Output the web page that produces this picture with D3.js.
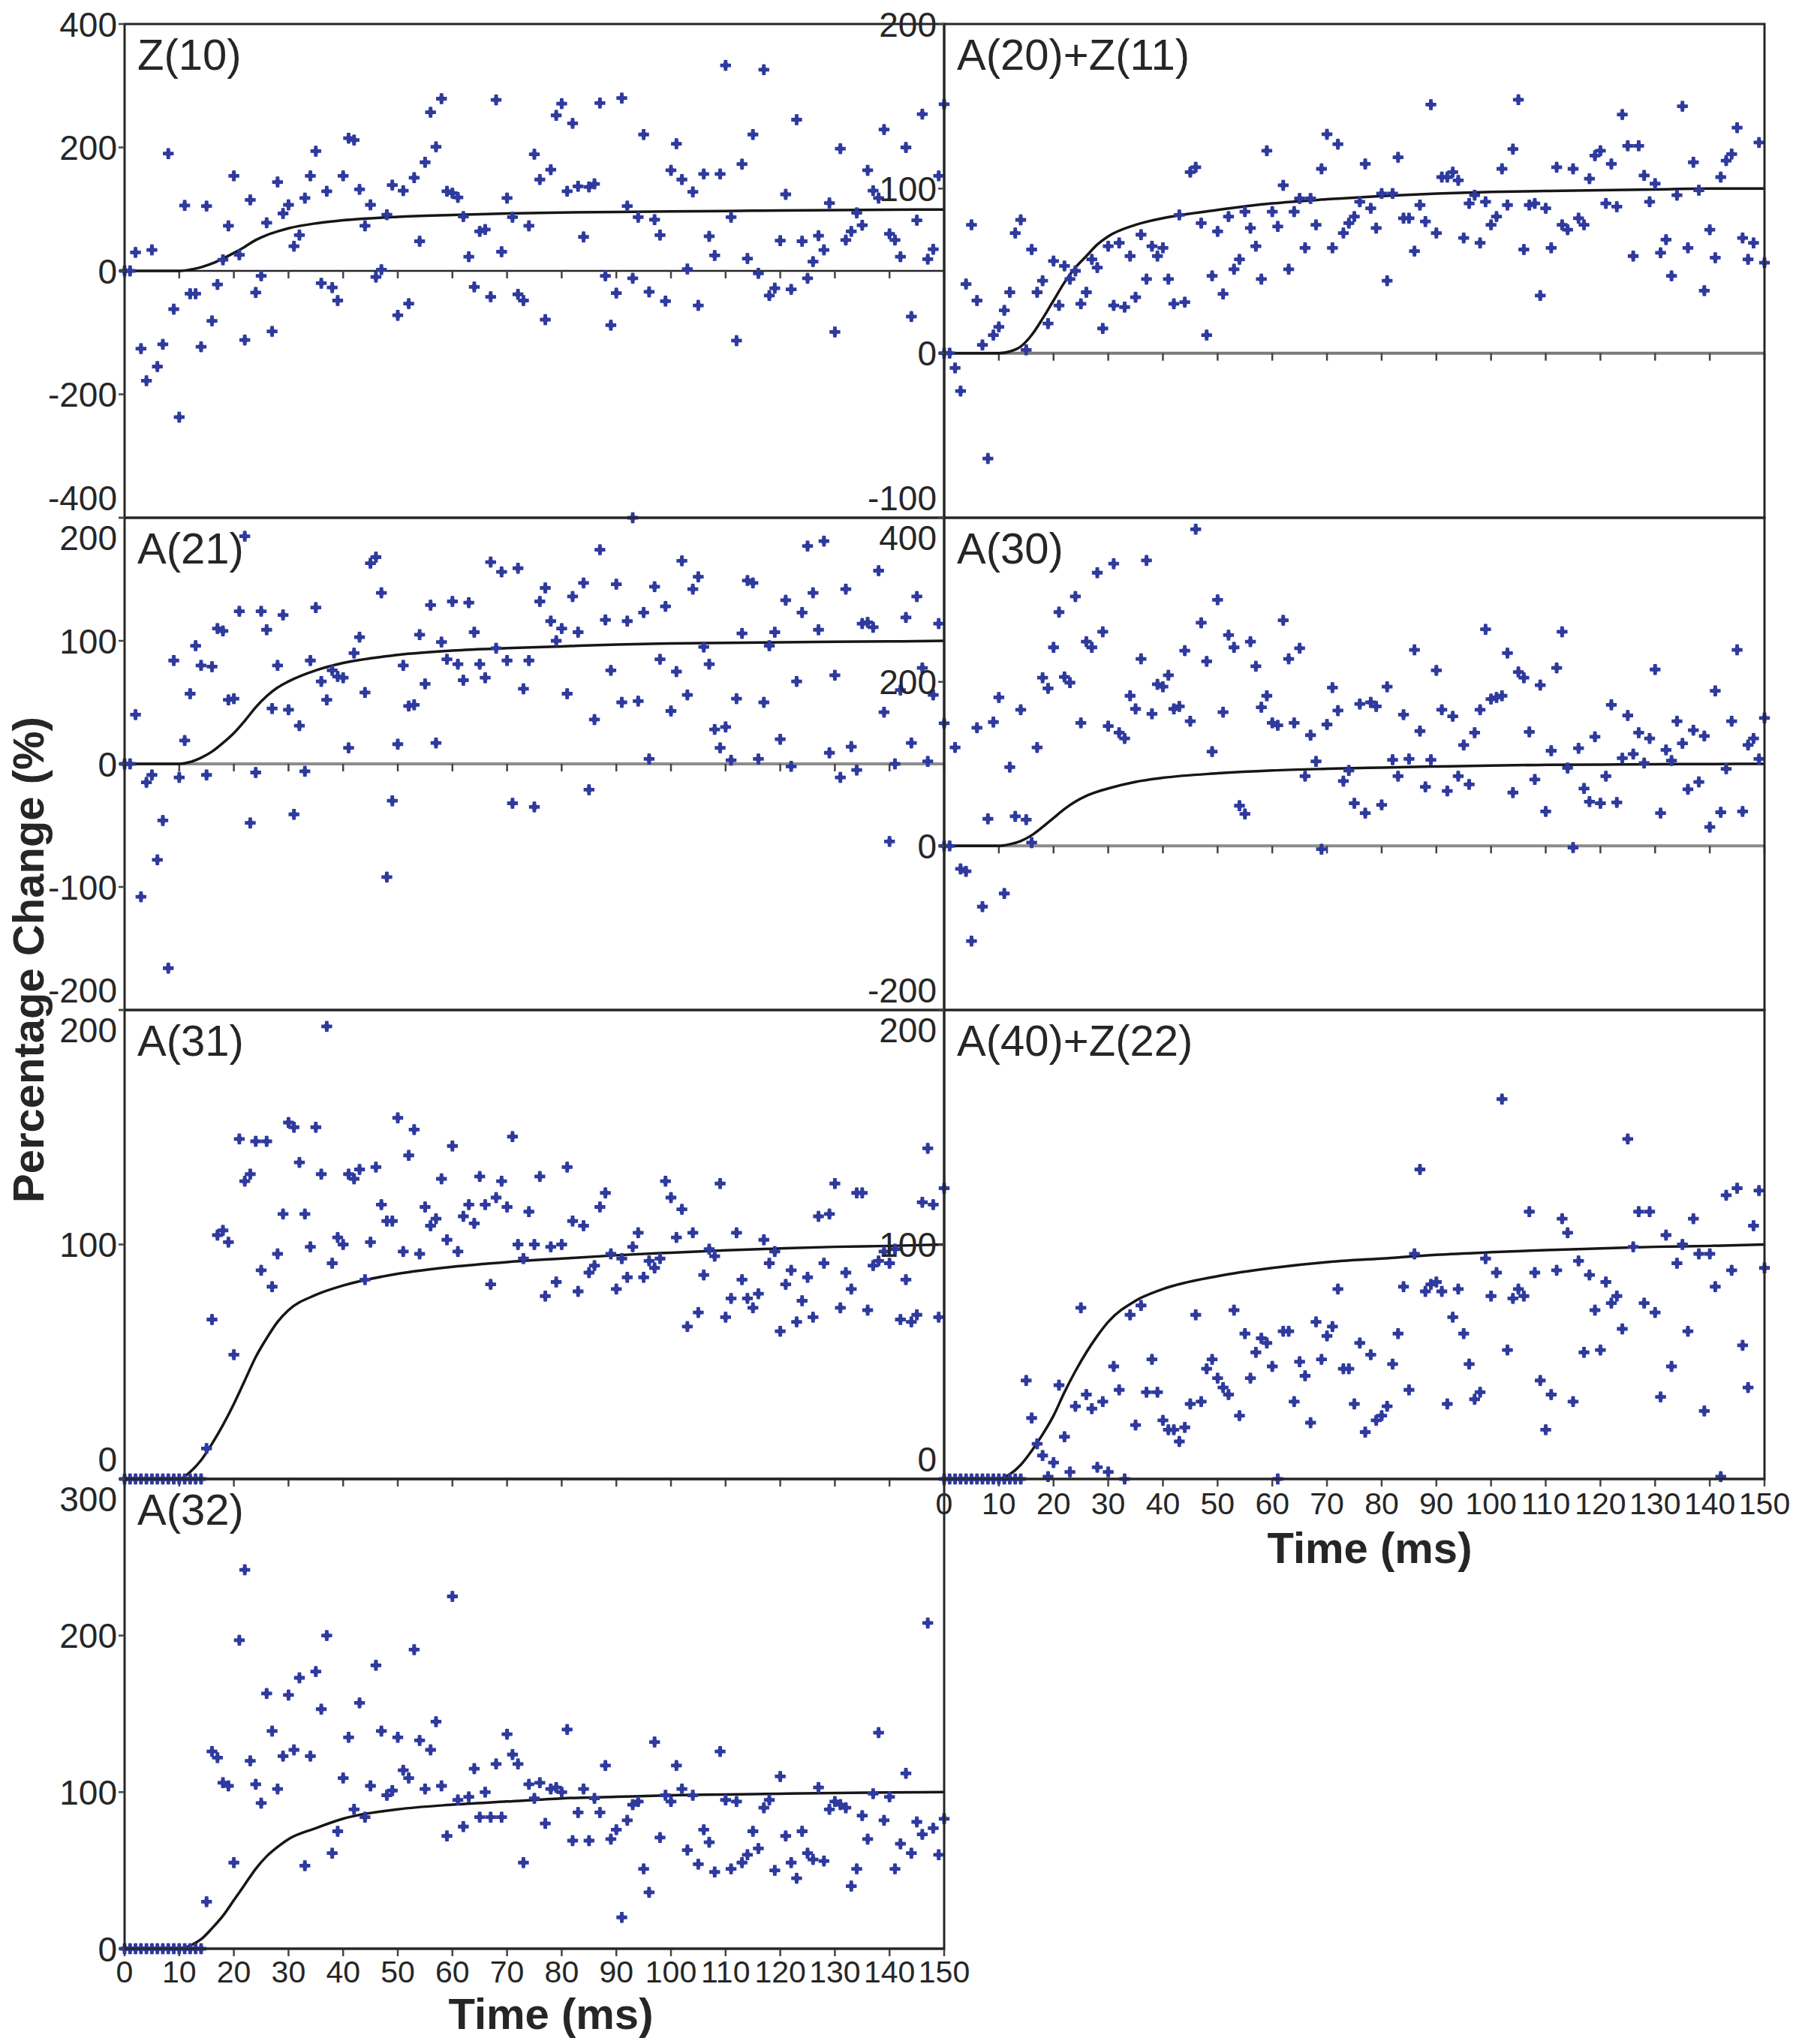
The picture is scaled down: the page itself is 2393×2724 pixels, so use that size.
<!DOCTYPE html>
<html>
<head>
<meta charset="utf-8">
<style>
  body { margin: 0; background: #fff; }
  svg { display: block; }
  text { font-family: "Liberation Sans", Arial, sans-serif; fill: #262626; }
</style>
</head>
<body>
<script src="https://d3js.org/d3.v7.min.js"></script>
<script>
// time grid: one sample per ms, 0..150
var times = d3.range(0, 151);

// measured values (% change) per construct, index = ms
var z10 = [0, 0,30,-126,-178,34,-155,-119,190,-62,-237, 106,-37,-37,-123,105,-81,-22,18,73,154,
  26,-112,115,-35,-8,78,-98,144,93,107, 40,58,118,154,194,-20,129,-27,-48,154,
  215,212,132,73,107,-10,2,91,139,-72, 130,-53,151,48,176,257,201,279,129,126,
  119,88,23,-26,64,67,-42,277,31,118, 87,-38,-48,73,189,148,-79,164,252,271,
  129,239,137,55,136,141,272,-8,-88,-36, 280,105,-12,87,221,-34,83,58,-49,163,
  206,148,3,128,-56,157,56,25,157,333, 87,-113,173,20,221,-4,326,-40,-28,49,
  124,-30,245,48,-12,15,57,34,110,-99, 198,50,64,94,74,163,130,118,229,60,
  50,23,200,-74,82,254,19,35,154,270];

var a20z11 = [0, 0,-9,-23,42,78,32,5,-64,11,16, 26,37,73,81,2,63,37,44,18,56,
  29,53,45,50,30,37,57,52,15,65, 29,67,28,59,34,72,45,65,59,64,
  45,30,84,31,110,113,79,11,47,74, 36,83,51,57,86,76,65,45,123,86,
  77,102,51,86,94,64,94,78,112,133, 64,127,73,79,83,92,115,88,76,97,
  44,97,119,82,82,62,90,80,151,73, 107,107,110,105,70,91,96,67,92,78,
  83,112,90,124,154,63,90,91,35,88, 64,113,78,75,112,82,78,106,120,123,
  91,115,89,145,126,59,126,108,92,103, 61,69,47,96,150,64,116,99,38,75,
  58,107,117,121,137,70,57,67,128,55];

var a21 = [0, 0,40,-108,-15,-9,-78,-46,-166,84,-11, 19,57,96,80,-9,79,110,108,52,53,
  124,185,-48,-7,124,109,45,80,121,44, -41,31,-6,84,127,67,52,76,71,70,
  13,90,103,58,163,168,139,-92,-30,16, 80,47,48,105,65,129,17,99,85,132,
  81,68,131,107,81,70,164,94,156,84, -32,159,61,84,-35,132,143,116,100,110,
  57,136,107,147,-21,36,174,117,76,146, 50,116,200,51,123,4,144,85,128,43,
  75,165,56,142,152,95,81,28,13,30, 3,53,106,149,147,4,50,96,107,20,
  133,-2,67,123,177,139,109,181,9,72, -11,142,14,-5,114,115,111,157,42,-63,
  0,60,119,17,136,78,2,56,114,33];

var a30 = [0, 0,120,-28,-31,-116,144,-74,33,151,181, -58,96,36,166,32,4,120,205,192,242,
  285,206,199,304,150,249,242,333,261,146, 344,138,131,183,167,228,348,161,197,194,
  208,167,170,238,152,386,272,225,115,300, 163,257,242,49,39,249,219,169,183,150,
  147,275,228,150,241,85,135,103,-4,148, 193,165,79,92,52,173,40,175,170,50,
  194,105,85,160,106,239,140,72,105,214, 166,67,158,85,123,75,138,166,264,179,
  181,183,235,65,212,205,139,81,196,42, 116,217,261,95,-2,119,70,54,133,52,
  85,172,53,107,159,112,138,101,131,215, 40,117,104,152,125,69,141,78,134,23,
  189,41,94,152,239,42,123,131,106,156];

var a31 = [0, 0,0,0,0,0,0,0,0,0,0, 0,0,0,0,13,68,104,106,101,53,
  145,127,130,144,89,144,82,96,113,152, 150,135,113,99,150,130,193,92,103,100,
  130,128,132,85,101,133,117,110,110,154, 97,138,149,96,116,108,111,128,102,142,
  97,112,117,109,129,117,83,120,127,116, 146,100,94,114,100,129,78,99,84,100,
  133,110,80,108,88,91,116,122,96,81, 94,86,99,105,86,93,90,94,127,120,
  103,115,65,105,71,87,98,95,126,69, 77,105,85,77,73,79,102,92,97,63,
  83,89,67,76,86,69,112,92,113,126, 73,88,81,122,122,72,91,93,97,92,
  98,68,85,67,70,118,141,117,69,124];

var a40z22 = [0, 0,0,0,0,0,0,0,0,0,0, 0,0,0,0,42,26,15,10,1,7,
  40,18,3,31,73,36,30,5,33,3, 48,38,0,70,23,74,37,51,37,25,
  21,21,16,22,32,70,33,47,51,43, 39,36,72,27,62,43,54,60,58,48,
  0,63,63,33,50,44,24,67,51,61, 65,81,47,47,32,58,20,53,25,27,
  31,49,62,82,38,96,132,80,83,84, 80,32,69,81,62,49,34,37,94,78,
  88,162,55,77,81,78,114,88,42,21, 36,89,111,105,33,93,54,87,72,55,
  84,75,78,64,145,99,114,75,114,71, 35,104,48,92,100,63,111,96,29,96,
  82,1,121,89,124,57,39,108,123,90];

var a32 = [0, 0,0,0,0,0,0,0,0,0,0, 0,0,0,0,30,126,122,106,104,55,
  197,242,120,105,93,163,139,102,123,162, 127,173,53,123,177,153,200,61,75,109,
  135,89,157,84,104,181,139,98,101,135, 114,109,191,133,102,127,145,104,72,225,
  95,78,97,115,84,100,84,118,84,137, 124,118,55,105,96,106,80,102,103,100,
  140,69,87,102,69,96,87,117,70,76, 20,82,92,94,51,36,132,71,98,94,
  117,102,63,98,54,76,68,49,126,95, 51,94,55,60,75,64,90,95,50,110,
  72,55,45,75,61,57,103,56,89,94, 92,90,40,51,85,70,99,138,82,97,
  51,67,112,61,81,73,208,77,60,83];

// fitted curves, read at these times (ms)
var fitTimes = [0,10,12,14,16,18,20,22,24,26,28,30,35,40,50,60,70,80,90,100,110,120,130,140,150];
var fitZ10    = [0,0,2,6,12,20,29,39,50,58,64,69,77,82,87.5,90.5,93,94.5,95.5,96.5,97,98,98.5,99,99.5];
var fitA20Z11 = [0,0,1,4,11,21,32,43,52,59,66,71,78,82,87,91,93.5,95.5,97,98,98.5,99,99.5,100,100];
var fitA21    = [0,0,1.5,5,10,17,25,35,46,55,62,67,76,82,88.5,92,94,95.5,97,97.8,98.3,98.8,99.2,99.5,100];
var fitA30    = [0,0,2,6,13,23,34,45,54,61,66,70,78,83,88.5,92,94,95.5,96.8,98,98.8,99.2,99.6,99.8,100];
var fitA31    = [0,0,3,8,15,23,32,42,52,60,67,72,78.5,82.5,87.5,90.5,92.5,94,95.4,96.5,97.5,98.3,99,99.4,100];
var fitA40Z22 = [0,0,2,6,12,19,27,37,46,54,61,67,76,81,86.5,90,92.5,94,95.6,96.7,97.6,98.3,99,99.4,100];
var fitA32    = [0,0,2,6,13,21,31,41,51,59,65,70,77,83,89,92,94,96,97,98,98.5,99,99.5,99.8,100];

var xTicks = d3.range(0, 151, 10);

// panel layout
var L = [166, 1258], R = [1258, 2351];
var panels = [
  {name: "Z(10)",       vals: z10,    fit: fitZ10,    xr: L, yr: [32, 690],    dom: [-400, 400], ticks: [-400,-200,0,200,400], row: 1, zero: "#262626", zw: 2.5},
  {name: "A(20)+Z(11)", vals: a20z11, fit: fitA20Z11, xr: R, yr: [32, 690],    dom: [-100, 200], ticks: [-100,0,100,200],      row: 1, zero: "#7a7a7a", zw: 4},
  {name: "A(21)",       vals: a21,    fit: fitA21,    xr: L, yr: [690, 1346],  dom: [-200, 200], ticks: [-200,-100,0,100,200], row: 2, zero: "#8c8c8c", zw: 4},
  {name: "A(30)",       vals: a30,    fit: fitA30,    xr: R, yr: [690, 1346],  dom: [-200, 400], ticks: [-200,0,200,400],      row: 2, zero: "#8c8c8c", zw: 4},
  {name: "A(31)",       vals: a31,    fit: fitA31,    xr: L, yr: [1346, 1971], dom: [0, 200],    ticks: [0,100,200],           row: 3, zero: "#262626", zw: 3},
  {name: "A(40)+Z(22)", vals: a40z22, fit: fitA40Z22, xr: R, yr: [1346, 1971], dom: [0, 200],    ticks: [0,100,200],           row: 3, zero: "#262626", zw: 3, xlab: 2018},
  {name: "A(32)",       vals: a32,    fit: fitA32,    xr: L, yr: [1971, 2597], dom: [0, 300],    ticks: [0,100,200,300],       row: 4, zero: "#262626", zw: 3, xlab: 2642}
];

var svg = d3.select("body").append("svg")
    .attr("width", 2393)
    .attr("height", 2724);
svg.append("rect").attr("width", 2393).attr("height", 2724).attr("fill", "#fff");

panels.forEach(function(p) {
  var x = d3.scaleLinear().domain([0, 150]).range(p.xr);
  var y = d3.scaleLinear().domain(p.dom).range([p.yr[1], p.yr[0]]);
  var g = svg.append("g");

  // zero line
  g.append("line")
      .attr("x1", p.xr[0]).attr("x2", p.xr[1])
      .attr("y1", y(0)).attr("y2", y(0))
      .attr("stroke", p.zero).attr("stroke-width", p.zw);

  // x ticks on the zero line
  g.selectAll(".xt").data(xTicks).enter().append("line")
      .attr("x1", function(d) { return x(d); }).attr("x2", function(d) { return x(d); })
      .attr("y1", y(0)).attr("y2", y(0) + 10)
      .attr("stroke", "#444").attr("stroke-width", 2.5);

  // fitted curve
  var line = d3.line()
      .x(function(d, i) { return x(fitTimes[i]); })
      .y(function(d) { return y(d); })
      .curve(d3.curveMonotoneX);
  g.append("path").datum(p.fit)
      .attr("d", line)
      .attr("fill", "none")
      .attr("stroke", "#161616")
      .attr("stroke-width", 3.5);

  // points: bold cross over a diamond
  var cross = d3.symbol().type(d3.symbolCross).size(115);
  var diamond = d3.symbol().type(d3.symbolDiamond).size(70);
  var pts = g.selectAll(".pt").data(p.vals).enter().append("g")
      .attr("transform", function(d, i) { return "translate(" + x(times[i]) + "," + y(d) + ")"; });
  pts.append("path").attr("d", cross).attr("fill", "#2e3a9e");
  pts.append("path").attr("d", diamond).attr("fill", "#2e3a9e");

  // frame
  g.append("rect")
      .attr("x", p.xr[0]).attr("y", p.yr[0])
      .attr("width", p.xr[1] - p.xr[0]).attr("height", p.yr[1] - p.yr[0])
      .attr("fill", "none").attr("stroke", "#262626").attr("stroke-width", 3);

  // y ticks + labels (end labels nudged inward where panels meet)
  g.selectAll(".yt").data(p.ticks).enter().append("line")
      .attr("x1", p.xr[0] - 8).attr("x2", p.xr[0])
      .attr("y1", function(d) { return y(d); }).attr("y2", function(d) { return y(d); })
      .attr("stroke", "#444").attr("stroke-width", 2.5);
  g.selectAll(".yl").data(p.ticks).enter().append("text")
      .attr("x", p.xr[0] - 10)
      .attr("y", function(d) {
        var off = 0;
        if (d === p.dom[1] && p.row > 1) off = 26;
        if (d === p.dom[0] && p.row < 4) off = -27;
        return y(d) + off;
      })
      .attr("dy", "0.36em")
      .attr("text-anchor", "end")
      .style("font-size", "46px")
      .text(function(d) { return d; });

  // panel title
  g.append("text")
      .attr("x", p.xr[0] + 17).attr("y", p.yr[0] + 61)
      .style("font-size", "58px")
      .text(p.name);

  // x tick labels on bottom panels
  if (p.xlab) {
    g.selectAll(".xl").data(xTicks).enter().append("text")
        .attr("x", function(d) { return x(d); })
        .attr("y", p.xlab)
        .attr("text-anchor", "middle")
        .style("font-size", "41px")
        .text(function(d) { return d; });
  }
});

// axis titles
svg.append("text")
    .attr("transform", "translate(58,1279) rotate(-90)")
    .attr("text-anchor", "middle")
    .style("font-size", "58px").style("font-weight", "bold")
    .text("Percentage Change (%)");
svg.append("text")
    .attr("x", 734).attr("y", 2704)
    .attr("text-anchor", "middle")
    .style("font-size", "58px").style("font-weight", "bold")
    .text("Time (ms)");
svg.append("text")
    .attr("x", 1825).attr("y", 2083)
    .attr("text-anchor", "middle")
    .style("font-size", "58px").style("font-weight", "bold")
    .text("Time (ms)");
</script>
</body>
</html>
